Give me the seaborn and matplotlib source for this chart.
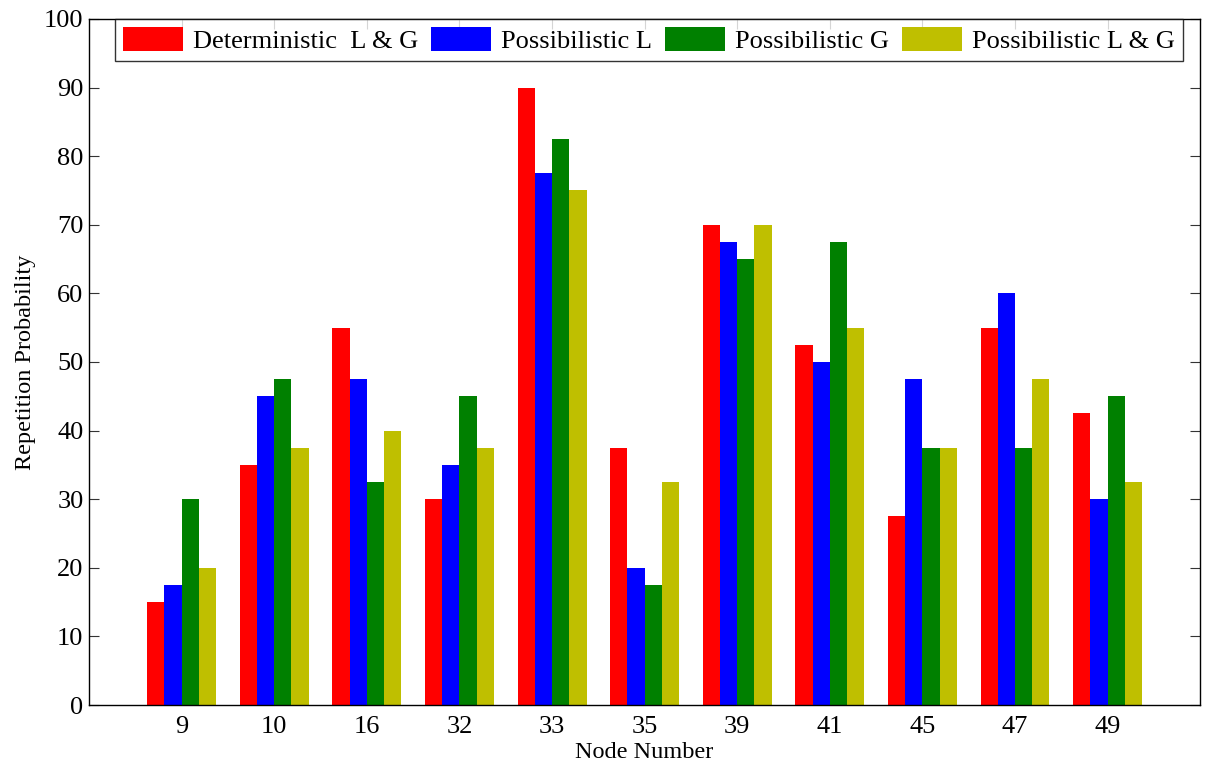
import numpy as np
import pandas as pd
import matplotlib
matplotlib.use("Agg")
import matplotlib.pyplot as plt
import seaborn as sns

nodes = ["9", "10", "16", "32", "33", "35", "39", "41", "45", "47", "49"]
series_names = ["Deterministic  L & G", "Possibilistic L", "Possibilistic G", "Possibilistic L & G"]
deterministic_lg = [15, 35, 55, 30, 90, 37.5, 70, 52.5, 27.5, 55, 42.5]
possibilistic_l = [17.5, 45, 47.5, 35, 77.5, 20, 67.5, 50, 47.5, 60, 30]
possibilistic_g = [30, 47.5, 32.5, 45, 82.5, 17.5, 65, 67.5, 37.5, 37.5, 45]
possibilistic_lg = [20, 37.5, 40, 37.5, 75, 32.5, 70, 55, 37.5, 47.5, 32.5]
colors = ["#ff0000", "#0000ff", "#008000", "#bfbf00"]
y_ticks = list(range(0, 101, 10))

rows = []
for name, vals in zip(series_names,
                      [deterministic_lg, possibilistic_l, possibilistic_g, possibilistic_lg]):
    for node, v in zip(nodes, vals):
        rows.append({"Node": node, "Series": name, "Value": v})
df = pd.DataFrame(rows)

sns.set_style("white")
plt.rcParams["font.family"] = ["Liberation Serif", "DejaVu Serif"]
plt.rcParams["text.color"] = "black"
plt.rcParams["axes.labelcolor"] = "black"
plt.rcParams["xtick.color"] = "black"
plt.rcParams["ytick.color"] = "black"

fig = plt.figure(figsize=(12.05, 7.65), dpi=100)
ax = fig.add_axes([0.0739, 0.0784, 0.9221, 0.8968])

sns.barplot(data=df, x="Node", y="Value", hue="Series", order=nodes,
            hue_order=series_names, palette=colors, width=0.745,
            saturation=1, linewidth=0, errorbar=None, ax=ax)

ax.set_xlim(-1, 11)
ax.set_ylim(0, 100)
ax.set_yticks(y_ticks)
ax.set_xlabel("Node Number", fontsize=17.5, labelpad=3)
ax.set_ylabel("Repetition Probability", fontsize=17.5, labelpad=6)
ax.tick_params(axis="both", which="both", direction="in", length=7, width=0.8,
               labelsize=19, top=True, right=True, bottom=True, left=True,
               color="#333333", labelcolor="black")
ax.tick_params(axis="x", pad=8)
ax.tick_params(axis="y", pad=4)
for s in ax.spines.values():
    s.set_color("black")
    s.set_linewidth(1.0)

leg = ax.legend(loc="upper center", bbox_to_anchor=(0.504, 1.0), ncol=4,
                fontsize=19, frameon=True, fancybox=False, edgecolor="black",
                handlelength=2.27, handleheight=1.05, handletextpad=0.38,
                columnspacing=0.5, borderpad=0.3, borderaxespad=0.0)
leg.get_frame().set_linewidth(1.0)

fig.savefig("out.png", dpi=100)
